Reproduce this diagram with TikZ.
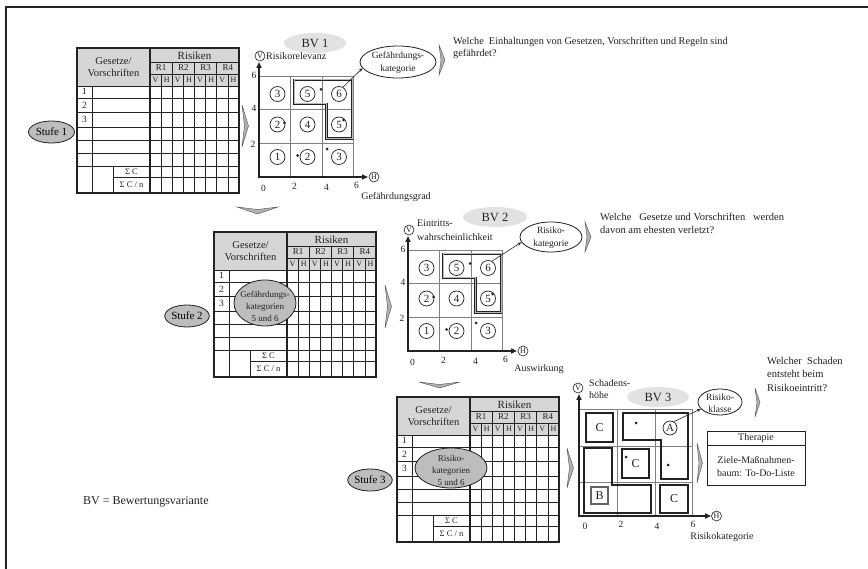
\documentclass[tikz,border=0pt]{standalone}
\usepackage{fontspec}
\setmainfont{Liberation Serif}
\usetikzlibrary{arrows.meta,shapes.geometric}
\definecolor{hdr}{HTML}{D6D6D6}
\definecolor{ovl}{HTML}{BDBDBD}
\definecolor{bvf}{HTML}{E2E2E2}
\definecolor{ink}{HTML}{222222}
\definecolor{grd}{HTML}{808080}
\newcommand\fsz[2]{\fontsize{#1}{#2}\selectfont}
\tikzset{
  tabthick/.style={draw=ink, line width=1.1pt},
  tabthin/.style={draw=ink, line width=0.7pt},
  txt/.style={inner sep=0pt, text=ink},
  ovalfill/.style={ellipse, draw=ink, fill=ovl, line width=0.8pt, inner sep=0pt},
  bvfill/.style={ellipse, fill=bvf, inner sep=0pt, text=ink, font=\fsz{12.5}{12.5}},
  wellipse/.style={ellipse, draw=ink, fill=white, line width=0.8pt, inner sep=0pt},
  numc/.style={circle, draw=ink, line width=0.7pt, minimum size=15pt, inner sep=0pt, font=\fsz{11}{11}, text=ink},
  axc/.style={circle, draw=ink, line width=0.6pt, minimum size=10pt, inner sep=0pt, font=\fsz{8}{8}, text=ink},
  dotn/.style={circle, fill=ink, inner sep=0pt, minimum size=3pt},
  axisline/.style={draw=ink, line width=1.8pt, {Triangle[length=6pt,width=5pt]}-{Triangle[length=6pt,width=5pt]}},
  gridl/.style={draw=grd, line width=0.6pt},
  zone/.style={draw=ink, double=gray!55, double distance=1pt, line width=0.7pt},
  zonethree/.style={draw=ink, line width=1.8pt},
  sqthree/.style={rectangle, draw=ink, line width=1.5pt, inner sep=0pt, font=\fsz{12}{12}, text=ink},
  sqb/.style={rectangle, draw=gray!70!ink, line width=1.2pt, inner sep=0pt, font=\fsz{12}{12}, text=ink},
  chev/.style={fill=gray!60, draw=ink!80, line width=0.4pt},
  connarrow/.style={draw=ink, line width=0.6pt, -{Stealth[length=4pt,width=3pt]}},
  ticklab/.style={txt, font=\fsz{9.5}{9.5}},
}
\newcommand\RTable[3]{%
\begin{scope}[shift={(#2,#3)}]
  \fill[hdr] (0,0) rectangle (162,38);
  \draw[tabthin] (73,14) -- (162,14) (73,26) -- (162,26);
  \foreach \y in {38,50,64,79,92,105,118} \draw[tabthin] (0,\y) -- (162,\y);
  \draw[tabthin] (36,129) -- (162,129);
  \draw[tabthin] (15,38) -- (15,145) (36,118) -- (36,145);
  \foreach \x in {84.125,106.375,128.625,150.875} \draw[tabthin] (\x,26) -- (\x,145);
  \foreach \x in {95.25,117.5,139.75} \draw[tabthick] (\x,14) -- (\x,145);
  \draw[tabthick] (73,0) -- (73,145);
  \draw[tabthick] (0,0) rectangle (162,145);
  \node[txt, font=\fsz{10.5}{12}, align=center] (#1-gv) at (36.5,19) {Gesetze/\\Vorschriften};
  \node[txt, font=\fsz{11}{11}] (#1-ris) at (117.5,7.5) {Risiken};
  \foreach \i/\x in {1/84.125,2/106.375,3/128.625,4/150.875}
     \node[txt, font=\fsz{9}{9}] (#1-r\i) at (\x,20) {R\i};
  \foreach \k/\x/\l in {1/78.56/V,2/89.69/H,3/100.81/V,4/111.94/H,5/123.06/V,6/134.19/H,7/145.31/V,8/156.44/H}
     \node[txt, font=\fsz{8}{8}] (#1-vh\k) at (\x,32) {\l};
  \node[txt, font=\fsz{9.5}{9.5}] (#1-n1) at (7.5,43.5) {1};
  \node[txt, font=\fsz{9.5}{9.5}] (#1-n2) at (7.5,57) {2};
  \node[txt, font=\fsz{9.5}{9.5}] (#1-n3) at (7.5,71) {3};
  \node[txt, font=\fsz{8.5}{8.5}] (#1-sc) at (54.5,123.5) {Σ C};
  \node[txt, font=\fsz{8.5}{8.5}] (#1-scn) at (54.5,137) {Σ C / n};
\end{scope}}
\newcommand\BVchart[2]{%
\begin{scope}[shift={#2}]
  \draw[gridl] (31.5,0) -- (31.5,-101) (63,0) -- (63,-101) (94.5,0) -- (94.5,-101);
  \draw[gridl] (0,-33.7) -- (94.5,-33.7) (0,-67.3) -- (94.5,-67.3) (0,-101) -- (94.5,-101);
  \draw[zone] (35,-97) -- (93,-97) -- (93,-38.5) -- (67.5,-38.5) -- (67.5,-73) -- (35,-73) -- cycle;
  \coordinate (#1-vt) at (0,-115);
  \coordinate (#1-o) at (0,0);
  \coordinate (#1-ht) at (109,0);
  \draw[axisline] (#1-vt) -- (#1-o) -- (#1-ht);
  \node[axc] (#1-v) at (1,-121) {V};
  \node[axc] (#1-h) at (115,0) {H};
  \node[numc] (#1-a1) at (18.5,-83) {3};
  \node[numc] (#1-a2) at (48.5,-83) {5};
  \node[numc] (#1-a3) at (80,-83) {6};
  \node[numc] (#1-a4) at (18.5,-52.5) {2};
  \node[numc] (#1-a5) at (48.5,-52.5) {4};
  \node[numc] (#1-a6) at (80,-52.5) {5};
  \node[numc] (#1-a7) at (18.5,-20) {1};
  \node[numc] (#1-a8) at (48.5,-20) {2};
  \node[numc] (#1-a9) at (80,-20) {3};
  \node[dotn] (#1-d1) at (62,-87.5) {};
  \node[dotn] (#1-d2) at (25.5,-54) {};
  \node[dotn] (#1-d3) at (84.5,-57) {};
  \node[dotn] (#1-d4) at (38.5,-21.5) {};
  \node[dotn] (#1-d5) at (68,-28) {};
  \node[ticklab] (#1-t6) at (-5,-102) {6};
  \node[ticklab] (#1-t4) at (-5,-69) {4};
  \node[ticklab] (#1-t2) at (-6,-33) {2};
  \node[ticklab] (#1-x0) at (4.5,11) {0};
  \node[ticklab] (#1-x2) at (35.5,9) {2};
  \node[ticklab] (#1-x4) at (67.5,10.5) {4};
  \node[ticklab] (#1-x6) at (97.5,8) {6};
\end{scope}}
\begin{document}
\begin{tikzpicture}[x=1pt,y=-1pt]
\useasboundingbox (0,0) rectangle (868,569);
\fill[white] (0,0) rectangle (868,569);
% frame
\draw[ink, line width=1.6pt] (6,569) -- (6,7) -- (868,7);

% ---------- Stufe 1 ----------
\RTable{ta}{77}{48}
\node[ovalfill, minimum width=46pt, minimum height=22pt, font=\fsz{11}{11}] (s1) at (51.5,132) {Stufe 1};
\filldraw[chev] (242,105) -- (248.5,126) -- (242,147) -- (244.5,126) -- cycle;
\BVchart{pa}{(259,177)}
\node[bvfill, minimum width=62pt, minimum height=20pt] (bv1) at (315,43) {BV 1};
\node[txt, anchor=west, font=\fsz{10}{10}] (rr) at (266,56.5) {Risikorelevanz};
\node[txt, font=\fsz{10}{10}] (gg) at (396,197) {Gefährdungsgrad};
\node[wellipse, minimum width=76pt, minimum height=32pt] (cat1) at (398,62) {};
\node[txt, align=center, font=\fsz{9.5}{13}] (cat1t) at (398,63) {Gefährdungs-\\kategorie};
\draw[connarrow] (pa-a3.60) -- (cat1.190);
\filldraw[chev] (439,45) -- (445,60) -- (439,75) -- (441,60) -- cycle;
\node[txt, anchor=base west, align=left, font=\fsz{10.3}{12}] (q1) at (453,56.5) {Welche\ \ Einhaltungen von Gesetzen, Vorschriften und Regeln sind\\gefährdet?};
\filldraw[chev] (237,207) -- (257.5,214) -- (278,207) -- (257.5,209.5) -- cycle;

% ---------- Stufe 2 ----------
\RTable{tb}{214}{232}
\node[ovalfill, minimum width=44pt, minimum height=22pt, font=\fsz{11}{11}] (s2) at (187,316) {Stufe 2};
\node[ovalfill, minimum width=62pt, minimum height=46pt] (o2) at (265,303) {};
\node[txt, align=center, font=\fsz{9}{12}] (o2t) at (265,306) {Gefährdungs-\\kategorien\\5 und 6};
\filldraw[chev] (385,285) -- (391.5,306.5) -- (385,328) -- (387.5,306.5) -- cycle;
\BVchart{pb}{(408,351)}
\node[bvfill, minimum width=64pt, minimum height=20pt] (bv2) at (495,217) {BV 2};
\node[txt, anchor=west, align=left, font=\fsz{10}{14}] (ew) at (417,230) {Eintritts-\\wahrscheinlichkeit};
\node[txt, font=\fsz{10}{10}] (aw) at (539,369) {Auswirkung};
\node[wellipse, minimum width=62pt, minimum height=30pt] (cat2) at (551,237) {};
\node[txt, align=center, font=\fsz{9.5}{13}] (cat2t) at (551,238) {Risiko-\\kategorie};
\draw[connarrow] (pb-a3.60) -- (cat2.190);
\filldraw[chev] (585,222) -- (591,237) -- (585,252) -- (587,237) -- cycle;
\node[txt, anchor=base west, align=left, font=\fsz{10.5}{13}] (q2) at (600,233.5) {Welche\ \ \ Gesetze und Vorschriften\ \ \ werden\\davon am ehesten verletzt?};
\filldraw[chev] (419,382) -- (439.5,388) -- (460,382) -- (439.5,384.5) -- cycle;

% ---------- Stufe 3 ----------
\RTable{tc}{397}{397}
\node[ovalfill, minimum width=42pt, minimum height=22pt, font=\fsz{11}{11}] (s3) at (370,480) {Stufe 3};
\node[ovalfill, minimum width=72pt, minimum height=40pt] (o3) at (451,468) {};
\node[txt, align=center, font=\fsz{9}{12}] (o3t) at (451,470) {Risiko-\\kategorien\\5 und 6};
\filldraw[chev] (567,448) -- (573.5,468) -- (567,488) -- (569.5,468) -- cycle;

% chart 3
\draw[gridl] (617,516) -- (617,409) (655,516) -- (655,409) (692,516) -- (692,409);
\draw[gridl] (579,482) -- (692,482) (579,446) -- (692,446) (579,409) -- (692,409);
\draw[zonethree] (623,413) -- (688,413) -- (688,479) -- (661,479) -- (661,440) -- (623,440) -- cycle;
\draw[zonethree] (584,448) -- (612,448) -- (612,485) -- (651,485) -- (651,513) -- (584,513) -- cycle;
\node[sqthree, minimum width=27pt, minimum height=29pt] (q3c1) at (599.5,427.5) {C};
\node[sqthree, minimum width=27pt, minimum height=29pt] (q3c2) at (635.5,463.5) {C};
\node[sqb, minimum width=17pt, minimum height=17pt] (q3b) at (599.5,495.5) {B};
\node[sqthree, minimum width=28pt, minimum height=28pt] (q3c3) at (674,499) {C};
\node[numc, minimum size=14pt, font=\fsz{11}{11}] (q3a) at (670,428) {A};
\node[dotn] (q3d1) at (636,423) {};
\node[dotn] (q3d2) at (668,465) {};
\node[dotn] (q3d3) at (626,457) {};
\coordinate (q3vt) at (579,394);
\coordinate (q3o) at (579,516);
\coordinate (q3ht) at (711,516);
\draw[axisline] (q3vt) -- (q3o) -- (q3ht);
\node[axc] (q3v) at (578,388) {V};
\node[axc] (q3h) at (716.5,516) {H};
\node[ticklab] (q3x0) at (585,526) {0};
\node[ticklab] (q3x2) at (621,524) {2};
\node[ticklab] (q3x4) at (657,526) {4};
\node[ticklab] (q3x6) at (693,524) {6};
\node[txt, font=\fsz{10}{10}] (rkat) at (722,537) {Risikokategorie};
\node[txt, anchor=west, align=left, font=\fsz{10}{12}] (sh) at (589,389) {Schadens-\\höhe};
\node[bvfill, minimum width=62pt, minimum height=20pt] (bv3) at (658,397) {BV 3};
\node[wellipse, minimum width=44pt, minimum height=26pt] (rk) at (720,402) {};
\node[txt, align=center, font=\fsz{9.5}{12}] (rkt) at (720,403) {Risiko-\\klasse};
\draw[connarrow] (q3a.60) -- (rk.200);
\filldraw[chev] (755,388) -- (760,402.5) -- (755,417) -- (757,402.5) -- cycle;
\node[txt, anchor=base west, align=left, font=\fsz{10.5}{13.5}] (q3) at (767,391.5) {Welcher\ \ Schaden\\entsteht beim\\Risikoeintritt?};
\filldraw[chev] (697,443) -- (702.5,463) -- (697,483) -- (699,463) -- cycle;
\node[draw=ink, line width=0.9pt, minimum width=98pt, minimum height=54pt, anchor=north west, inner sep=0pt] (th) at (707,431) {};
\draw[tabthin] (707,445) -- (805,445);
\node[txt, font=\fsz{10}{10}] (tht) at (756,438) {Therapie};
\node[txt, align=center, font=\fsz{10}{13}] (thb) at (756,466.5) {Ziele-Maßnahmen-\\baum: To-Do-Liste};

\node[txt, anchor=west, font=\fsz{12}{12}] (bvleg) at (83,502) {BV = Bewertungsvariante};
\end{tikzpicture}
\end{document}
